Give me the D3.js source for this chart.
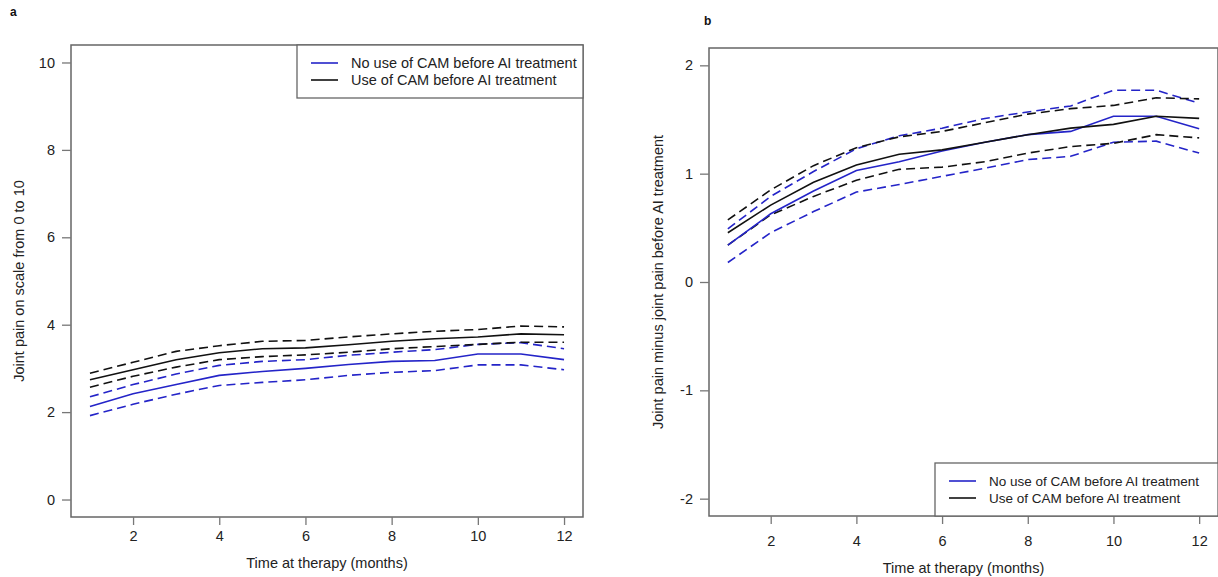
<!DOCTYPE html>
<html><head><meta charset="utf-8">
<script src="https://cdn.jsdelivr.net/npm/d3@7"></script>
<style>body{margin:0;background:#fff}svg{display:block}text{font-family:"Liberation Sans",Arial,sans-serif}</style>
</head><body><svg id="c" width="1218" height="577"></svg>
<script>
const months = [1,2,3,4,5,6,7,8,9,10,11,12];
const xTicks = [2,4,6,8,10,12];
const yTicksA = [0,2,4,6,8,10];
const yTicksB = [-2,-1,0,1,2];
const legendLabels = ["No use of CAM before AI treatment","Use of CAM before AI treatment"];

// Panel a: joint pain (0-10)
const aNoCamMean  = [2.13,2.42,2.63,2.84,2.93,3.00,3.09,3.16,3.18,3.33,3.33,3.20];
const aNoCamLower = [1.92,2.18,2.41,2.61,2.68,2.74,2.84,2.91,2.95,3.08,3.08,2.97];
const aNoCamUpper = [2.35,2.63,2.87,3.07,3.16,3.20,3.30,3.37,3.43,3.55,3.59,3.45];
const aCamMean    = [2.74,2.97,3.20,3.36,3.45,3.47,3.54,3.62,3.68,3.72,3.79,3.77];
const aCamLower   = [2.57,2.82,3.03,3.20,3.27,3.31,3.37,3.45,3.50,3.55,3.60,3.60];
const aCamUpper   = [2.89,3.14,3.39,3.52,3.62,3.64,3.72,3.79,3.85,3.89,3.97,3.95];

// Panel b: change from before AI treatment
const bNoCamMean  = [0.34,0.63,0.84,1.03,1.11,1.21,1.29,1.36,1.39,1.53,1.53,1.415];
const bNoCamLower = [0.18,0.455,0.65,0.83,0.90,0.975,1.05,1.13,1.16,1.29,1.30,1.19];
const bNoCamUpper = [0.49,0.79,1.02,1.23,1.35,1.42,1.51,1.57,1.625,1.77,1.77,1.65];
const bCamMean    = [0.455,0.71,0.92,1.08,1.18,1.22,1.29,1.36,1.42,1.455,1.53,1.51];
const bCamLower   = [0.34,0.62,0.79,0.94,1.04,1.06,1.11,1.19,1.25,1.28,1.36,1.33];
const bCamUpper   = [0.573,0.85,1.074,1.24,1.34,1.39,1.47,1.55,1.60,1.63,1.70,1.69];

const BLUE = "#2424c8", BLACK = "#111";
const svg = d3.select("#c");
const fmt = d => String(d); // plain hyphen-minus as in the original

function panel(cfg){
  const g = svg.append("g");
  const x = d3.scaleLinear().domain([0.56,12.44]).range([cfg.left,cfg.right]);
  const y = d3.scaleLinear().domain(cfg.ydom).range([cfg.bottom,cfg.top]);
  const line = d3.line().x((d,i)=>x(months[i])).y(d=>y(d));
  cfg.series.forEach(s=>{
    g.append("path").attr("d",line(s.v)).attr("fill","none")
      .attr("stroke",s.c).attr("stroke-width",1.6)
      .attr("stroke-dasharray",s.dash?"9,5":null);
  });
  g.append("rect").attr("x",cfg.left).attr("y",cfg.top)
    .attr("width",cfg.right-cfg.left).attr("height",cfg.bottom-cfg.top)
    .attr("fill","none").attr("stroke","#666").attr("stroke-width",1.5);
  const xa = g.append("g").attr("transform",`translate(0,${cfg.bottom})`)
    .call(d3.axisBottom(x).tickValues(xTicks).tickSize(8).tickPadding(cfg.xpad).tickFormat(fmt));
  xa.select(".domain").remove();
  xa.selectAll("line").attr("stroke","#777").attr("stroke-width",1.3);
  xa.selectAll("text").attr("font-size",14.5).attr("fill","#222");
  const ya = g.append("g").attr("transform",`translate(${cfg.left},0)`)
    .call(d3.axisLeft(y).tickValues(cfg.yticks).tickSize(9).tickPadding(7).tickFormat(fmt));
  ya.select(".domain").remove();
  ya.selectAll("line").attr("stroke","#777").attr("stroke-width",1.3);
  ya.selectAll("text").attr("font-size",14.5).attr("fill","#222");
  g.append("text").attr("x",(cfg.left+cfg.right)/2).attr("y",cfg.bottom+cfg.titleOff)
    .attr("text-anchor","middle").attr("font-size",14.5).attr("fill","#222").text("Time at therapy (months)");
  g.append("text").attr("transform",`translate(${cfg.ylabX},${(cfg.top+cfg.bottom)/2}) rotate(-90)`)
    .attr("text-anchor","middle").attr("font-size",14.5).attr("fill","#222").text(cfg.ylabel);
  g.append("text").attr("x",cfg.tagX).attr("y",cfg.tagY).attr("font-family","Liberation Serif, serif")
    .attr("font-weight","bold").attr("font-size",12).attr("fill","#111").text(cfg.tag);
  const L = cfg.legend;
  g.append("rect").attr("x",L.x).attr("y",L.y).attr("width",L.w).attr("height",L.h)
    .attr("fill","#fff").attr("stroke","#666").attr("stroke-width",1.3);
  [BLUE,BLACK].forEach((c,i)=>{
    const yy = L.y + 18 + i*17;
    g.append("line").attr("x1",L.x+14).attr("x2",L.x+41).attr("y1",yy).attr("y2",yy)
      .attr("stroke",c).attr("stroke-width",1.6);
    g.append("text").attr("x",L.x+54).attr("y",yy+5).attr("font-size",L.fs).attr("fill","#222").text(legendLabels[i]);
  });
}

panel({left:71,right:583,top:45,bottom:517,ydom:[-0.4,10.4],yticks:yTicksA,xpad:6,titleOff:51,
  ylabel:"Joint pain on scale from 0 to 10",ylabX:24,tag:"a",tagX:10,tagY:16,
  legend:{x:297,y:45,w:286,h:53,fs:14.5},
  series:[
    {v:aNoCamUpper,c:BLUE,dash:true},{v:aNoCamLower,c:BLUE,dash:true},
    {v:aCamUpper,c:BLACK,dash:true},{v:aCamLower,c:BLACK,dash:true},
    {v:aNoCamMean,c:BLUE},{v:aCamMean,c:BLACK}
  ]});

panel({left:709,right:1218,top:48,bottom:516,ydom:[-2.16,2.16],yticks:yTicksB,xpad:12,titleOff:57,
  ylabel:"Joint pain minus joint pain before AI treatment",ylabX:663,tag:"b",tagX:704,tagY:25,
  legend:{x:935,y:463,w:283,h:53,fs:13.5},
  series:[
    {v:bNoCamUpper,c:BLUE,dash:true},{v:bNoCamLower,c:BLUE,dash:true},
    {v:bCamUpper,c:BLACK,dash:true},{v:bCamLower,c:BLACK,dash:true},
    {v:bNoCamMean,c:BLUE},{v:bCamMean,c:BLACK}
  ]});
</script></body></html>
